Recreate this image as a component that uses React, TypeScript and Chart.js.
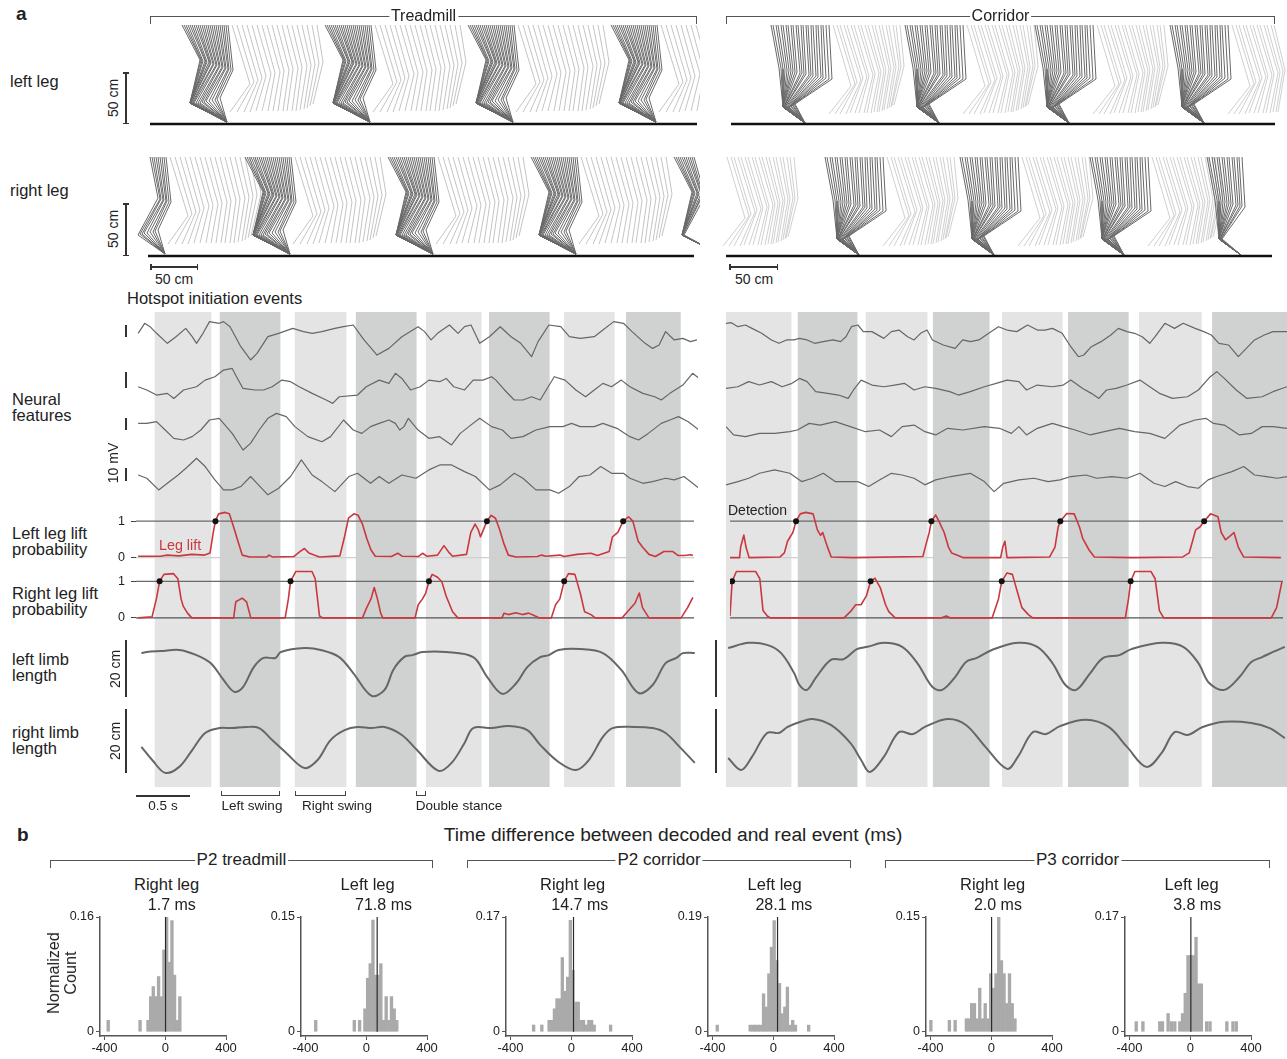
import React, { useEffect, useRef } from "react";
import { Chart, registerables } from "chart.js";

Chart.register(...registerables);

const FONT = "'Liberation Sans', Arial, Helvetica, sans-serif";
Chart.defaults.font.family = FONT;
Chart.defaults.color = "#222";

type Pt = [number, number];

/* ================= Panel a: stick diagrams (cm) ================= */
const HIP_HEIGHT = 99;
// treadmill stride template (x relative to first stance frame, y = height above ground)
const tmDarkHip = [0, 2, 4, 6, 8, 10, 12, 14, 16, 18, 20, 22, 24, 26, 28, 30, 32, 34, 36, 38, 40, 42, 44, 46];
const tmDarkKneeX = [18, 19, 20, 21, 23, 24, 25, 27, 28, 29, 31, 32, 34, 35, 37, 38, 40, 41, 43, 44, 46, 47, 49, 51];
const tmDarkKneeH = [64, 64, 63, 63, 63, 62, 62, 62, 61, 61, 60, 60, 59, 59, 58, 58, 57, 57, 56, 56, 55, 55, 54, 54];
const tmDarkAnkleX = [8, 8, 8, 8, 8, 8, 8, 8, 9, 9, 10, 11, 12, 14, 16, 18, 20, 22, 24, 27, 30, 33, 35, 38];
const tmDarkAnkleH = [21, 21, 21, 21, 21, 21, 21, 21, 21, 21, 21, 21, 21, 21, 21, 21, 22, 22, 23, 23, 24, 24, 25, 26];
const tmToe: Pt = [45, 2];
const tmLightHip = [50, 55, 60, 65, 70, 75, 80, 85, 90, 95, 100, 105, 110, 115, 120, 125, 130, 135];
const tmLightKneeX = [68, 72, 76, 80, 84, 89, 93, 98, 102, 107, 111, 116, 120, 125, 129, 133, 137, 141];
const tmLightKneeH = [40, 42, 44, 46, 48, 50, 51, 52, 53, 54, 55, 56, 57, 58, 59, 60, 61, 62];
const tmLightAnkleX = [48, 55, 62, 68, 74, 80, 86, 91, 96, 101, 105, 110, 114, 118, 122, 125, 128, 131];
const tmLightAnkleH = [12, 12, 12, 12, 13, 13, 13, 13, 13, 13, 13, 13, 13, 14, 15, 16, 18, 20];
// corridor stride template
const crDarkHip = [0, 2, 5, 7, 10, 12, 15, 17, 20, 22, 25, 27, 30, 32, 35, 37, 40, 42, 45, 47, 50, 52, 55, 58];
const crDarkKneeX = [8, 10, 12, 14, 16, 18, 20, 22, 24, 26, 29, 31, 33, 35, 38, 40, 42, 45, 47, 50, 52, 55, 58, 61];
const crDarkKneeH = [56, 56, 55, 55, 54, 54, 53, 53, 52, 52, 51, 51, 50, 50, 49, 49, 48, 48, 47, 47, 46, 46, 45, 45];
const crDarkAnkleX = [12, 12, 12, 12, 12, 12, 12, 12, 12, 13, 13, 13, 14, 14, 15, 16, 17, 18, 19, 20, 21, 22, 23, 24];
const crDarkAnkleH = [17, 17, 17, 17, 17, 17, 17, 17, 17, 17, 17, 17, 17, 17, 17, 17, 17, 17, 18, 18, 19, 19, 20, 20];
const crToe: Pt = [34, 1];
const crLightHip = [62, 66, 69, 73, 76, 80, 83, 87, 90, 94, 97, 101, 104, 108, 111, 115, 118, 122, 125, 129];
const crLightKneeX = [80, 84, 86, 90, 92, 96, 98, 102, 104, 108, 110, 113, 115, 118, 120, 123, 125, 128, 130, 133];
const crLightKneeH = [38, 40, 42, 44, 46, 47, 48, 49, 50, 51, 52, 53, 54, 55, 56, 57, 57, 58, 58, 58];
const crLightAnkleX = [58, 64, 69, 75, 79, 84, 88, 93, 96, 100, 103, 106, 108, 111, 113, 116, 118, 120, 121, 123];
const crLightAnkleH = [10, 10, 10, 10, 11, 11, 11, 11, 11, 11, 12, 12, 12, 13, 14, 15, 16, 17, 18, 19];
// stride start positions (cm along the panel)
const tmLeftStrides = [52, 195, 338, 481];
const tmRightStrides = [-10, 115, 258, 401, 544];
const crLeftStrides = [51, 185, 315, 450];
const crRightStrides = [-55, 105, 240, 370, 487];

/* ================= Panel a: time series (s) ================= */
const tmDuration = 5.2;
const crDuration = 5.19;
const tmLightBands: Pt[] = [[0.176, 0.694], [1.472, 1.944], [2.685, 3.194], [3.963, 4.426]];
const tmDarkBands: Pt[] = [[0.778, 1.333], [2.037, 2.593], [3.269, 3.824], [4.537, 5.037]];
const crLightBands: Pt[] = [[0, 0.602], [1.296, 1.861], [2.556, 3.111], [3.824, 4.398]];
const crDarkBands: Pt[] = [[0.667, 1.213], [1.917, 2.435], [3.167, 3.722], [4.5, 5.194]];

// neural features (mV)
const neuralOffsets = [0, -38.5, -73.1, -111.5];
const tmNeural1: Pt[] = [[.02, 1.3], [.08, 9], [.13, 6.4], [.19, 1.3], [.29, -6.4], [.37, -1.3], [.46, 5.1], [.52, -1.3], [.56, -6.4], [.62, 1.3], [.68, 10.3], [.77, 9], [.81, 10.3], [.87, 6.4], [.97, -9], [1.06, -19.2], [1.12, -14.1], [1.22, -1.3], [1.32, 1.3], [1.45, 5.1], [1.55, 2.6], [1.63, 1.3], [1.72, 2.6], [1.84, 5.1], [1.92, 6.4], [2.01, 7.7], [2.11, -3.8], [2.23, -15.4], [2.34, -10.3], [2.46, -1.3], [2.61, 6.4], [2.67, 2.6], [2.73, -3.8], [2.79, 1.3], [2.90, 7.7], [2.98, 1.3], [3.04, 6.4], [3.10, 7.7], [3.18, -6.4], [3.27, -1.3], [3.37, 6.4], [3.47, -1.3], [3.56, -6.4], [3.66, -16.7], [3.72, -5.1], [3.82, 7.7], [3.93, 6.4], [4.01, -1.3], [4.11, -2.6], [4.24, -1.3], [4.32, 3.8], [4.42, 10.3], [4.51, 9], [4.59, 2.6], [4.71, -6.4], [4.78, -10.3], [4.84, -7.7], [4.90, 2.6], [4.98, -3.8], [5.06, -2.6], [5.13, -5.1], [5.19, -3.8]];
const tmNeural2: Pt[] = [[.02, -1.3], [.10, -3.8], [.19, -7.7], [.29, -6.4], [.35, -10.3], [.44, -3.8], [.56, -1.3], [.64, 3.8], [.73, 6.4], [.81, 11.5], [.89, 12.8], [.93, 6.4], [.99, -2.6], [1.10, -3.8], [1.18, -3.8], [1.26, -1.3], [1.35, 3.8], [1.43, 2.6], [1.51, -1.3], [1.63, -6.4], [1.76, -11.5], [1.82, -14.1], [1.88, -9], [2.05, -7.7], [2.13, -1.3], [2.25, 3.8], [2.34, 1.3], [2.40, 9], [2.46, 5.1], [2.54, -3.8], [2.63, -1.3], [2.71, 3.8], [2.81, 2.6], [2.87, 5.1], [2.94, -1.3], [3.04, -3.8], [3.12, 3.8], [3.21, 3.8], [3.29, 6.4], [3.33, 3.8], [3.41, -3.8], [3.50, -11.5], [3.58, -11.5], [3.66, -9], [3.74, -11.5], [3.87, 6.4], [3.97, 3.8], [4.07, -3.8], [4.16, -9], [4.24, -3.8], [4.32, 1.3], [4.40, -1.3], [4.49, 3.8], [4.57, -1.3], [4.69, -6.4], [4.80, -9], [4.86, -11.5], [4.94, -6.4], [5.06, 0], [5.15, 9], [5.21, 5.1]];
const tmNeural3: Pt[] = [[.02, 5.1], [.10, 5.1], [.19, 6.4], [.27, 0], [.35, -6.4], [.44, -7.7], [.52, -5.1], [.60, 0], [.68, 7.7], [.77, 9], [.81, 5.1], [.89, -2.6], [.99, -15.4], [1.06, -10.3], [1.14, 0], [1.22, 9], [1.30, 12.8], [1.39, 10.3], [1.47, 2.6], [1.59, -5.1], [1.72, -9], [1.80, -5.1], [1.92, 7.7], [2.01, 0], [2.09, -2.6], [2.17, 2.6], [2.25, 5.1], [2.34, 7.7], [2.40, 5.1], [2.44, 0], [2.48, 2.6], [2.52, 9], [2.61, 0], [2.71, -6.4], [2.81, -5.1], [2.92, -11.5], [3.00, -2.6], [3.08, 2.6], [3.18, 9], [3.29, 2.6], [3.39, 0], [3.47, -6.4], [3.58, -5.1], [3.70, 0], [3.83, 2.6], [3.95, 2.6], [4.03, 5.1], [4.11, 2.6], [4.24, 2.6], [4.32, 5.1], [4.45, 1.3], [4.57, -5.1], [4.65, -7.7], [4.74, -2.6], [4.86, 5.1], [4.94, 7.7], [5.02, 10.3], [5.11, 6.4], [5.21, 0]];
const tmNeural4: Pt[] = [[.02, 3.8], [.10, 1.3], [.21, -7.7], [.29, -2.6], [.39, 3.8], [.48, 10.3], [.56, 16.7], [.64, 10.3], [.73, 0], [.81, -7.7], [.89, -7.7], [.97, -5.1], [1.06, 2.6], [1.12, -2.6], [1.22, -11.5], [1.32, -6.4], [1.43, 2.6], [1.53, 15.4], [1.63, 3.8], [1.72, -1.3], [1.84, -9], [1.97, 2.6], [2.05, 5.1], [2.17, -2.6], [2.25, 2.6], [2.34, -2.6], [2.46, 3.8], [2.59, 1.3], [2.71, 7.7], [2.81, 11.5], [2.92, 11.5], [3.04, 6.4], [3.14, 2.6], [3.27, -7.7], [3.37, -3.8], [3.50, 5.1], [3.58, 1.3], [3.70, -7.7], [3.83, -7.7], [3.91, -10.3], [4.01, -5.1], [4.10, 2.6], [4.20, 3.8], [4.30, 10.3], [4.40, 5.1], [4.51, 5.1], [4.57, 1.3], [4.69, -2.6], [4.78, -1.3], [4.90, 1.3], [4.98, 0], [5.07, 2.6], [5.21, -6.4]];
const crNeural1: Pt[] = [[0, 9], [.05, 9.5], [.11, 6.4], [.18, 7.7], [.24, 5.1], [.33, 1.3], [.42, -3.8], [.49, -6.4], [.56, -3.8], [.63, -3.8], [.68, -2.6], [.75, -3.8], [.82, -6.4], [.90, -5.1], [.99, -3.8], [1.06, -5.1], [1.11, -1.3], [1.16, 6.4], [1.22, 7.7], [1.27, 2.6], [1.35, 2.6], [1.46, -2.6], [1.53, 2.6], [1.60, 3.8], [1.68, -1.3], [1.74, -3.8], [1.80, 1.3], [1.86, 3.8], [1.91, -3.8], [2.01, -7.7], [2.12, -10.3], [2.19, -3.8], [2.26, -5.1], [2.34, -3.8], [2.43, 1.3], [2.52, 6.4], [2.60, 3.8], [2.69, 2.6], [2.79, 7.7], [2.88, 3.8], [2.95, 3.8], [3.02, 5.1], [3.11, 1.3], [3.19, -9], [3.26, -16.7], [3.31, -15.4], [3.38, -9], [3.47, -5.1], [3.56, 0], [3.63, 5.1], [3.71, 2.6], [3.78, 1.3], [3.85, -1.3], [3.92, -6.4], [3.97, -1.3], [4.06, 9], [4.15, 5.1], [4.23, 9], [4.34, 5.1], [4.42, 2.6], [4.49, 0], [4.56, -6.4], [4.65, -7.7], [4.74, -16.7], [4.80, -11.5], [4.89, -3.8], [4.98, 0], [5.06, 2.6], [5.19, 2.6]];
const crNeural2: Pt[] = [[0, -2.6], [.11, -1.3], [.21, 2.6], [.31, 0], [.42, 2.6], [.52, -1.3], [.61, 1.3], [.68, 5.1], [.75, 2.6], [.83, -5.1], [.94, -6.4], [1.04, -7.7], [1.13, -10.3], [1.18, -3.8], [1.25, 3.8], [1.35, 0], [1.46, -1.3], [1.56, 0], [1.65, 1.3], [1.74, -3.8], [1.84, -1.3], [1.94, -2.6], [2.07, -5.1], [2.15, -7.7], [2.26, -5.1], [2.39, -1.3], [2.50, 1.3], [2.60, 3.8], [2.71, 2.6], [2.78, -3.8], [2.88, 0], [3.02, -1.3], [3.12, 0], [3.19, 3.8], [3.30, -2.6], [3.38, -6.4], [3.45, -10.3], [3.52, -3.8], [3.61, -2.6], [3.71, 0], [3.83, 3.8], [3.92, -1.3], [4.01, -6.4], [4.13, -10.3], [4.27, -9], [4.37, -3.8], [4.48, 6.4], [4.54, 10.3], [4.61, 5.1], [4.72, -3.8], [4.82, -10.3], [4.96, -9], [5.06, -5.1], [5.19, -1.3]];
const crNeural3: Pt[] = [[0, 2.6], [.07, -3.8], [.18, -5.1], [.31, -2.6], [.45, -2.6], [.59, -1.3], [.66, 0], [.77, 5.1], [.87, 3.8], [1.01, 6.4], [1.15, 2.6], [1.29, -1.3], [1.42, 0], [1.53, -5.1], [1.63, 2.6], [1.74, 3.8], [1.84, -1.3], [1.94, -3.8], [2.05, 1.3], [2.19, 0], [2.39, 2.6], [2.53, 1.3], [2.64, -2.6], [2.71, 2.6], [2.78, -3.8], [2.88, 1.3], [3.02, 5.1], [3.12, 2.6], [3.23, 0], [3.37, -3.8], [3.50, -1.3], [3.64, 1.3], [3.78, -1.3], [3.92, -2.6], [4.06, -6.4], [4.20, 3.8], [4.34, 7.7], [4.44, 9], [4.51, 5.1], [4.61, 3.8], [4.75, -3.8], [4.86, -2.6], [4.96, 2.6], [5.06, 2.6], [5.19, 1.3]];
const crNeural4: Pt[] = [[0, -3.8], [.11, -1.3], [.21, 1.3], [.31, 5.1], [.45, 7.7], [.59, 5.1], [.70, -1.3], [.80, 1.3], [.90, 5.1], [1.01, -1.3], [1.11, -1.3], [1.22, -1.3], [1.32, -5.1], [1.42, 0], [1.53, 5.1], [1.63, 3.8], [1.74, 1.3], [1.84, -3.8], [1.94, 0], [2.08, 2.6], [2.26, 5.1], [2.39, -1.3], [2.48, -9], [2.57, -2.6], [2.71, 0], [2.85, 1.3], [2.98, -1.3], [3.09, 0], [3.19, 2.6], [3.33, 3.8], [3.43, 1.3], [3.57, 2.6], [3.71, 1.3], [3.83, 5.1], [3.96, -2.6], [4.06, -5.1], [4.16, -1.3], [4.27, -5.1], [4.37, -6.4], [4.46, 0], [4.54, 2.6], [4.68, 6.4], [4.79, 10.3], [4.89, 3.8], [5.00, 2.6], [5.10, 1.3], [5.19, 2.6]];

// leg-lift probabilities
const tmLeftLift: Pt[] = [[0.02, 0.04], [0.23, 0.04], [0.29, 0.07], [0.40, 0.05], [0.52, 0.09], [0.64, 0.07], [0.69, 0.13], [0.72, 0.69], [0.74, 1.0], [0.77, 1.2], [0.83, 1.24], [0.87, 1.2], [0.91, 0.84], [0.95, 0.45], [0.99, 0.07], [1.06, 0.02], [1.22, 0.02], [1.24, 0.07], [1.27, 0.02], [1.47, 0.03], [1.53, 0.17], [1.57, 0.25], [1.61, 0.13], [1.66, 0.07], [1.71, 0.02], [1.90, 0.05], [1.94, 0.53], [1.98, 1.08], [2.03, 1.2], [2.07, 1.16], [2.11, 0.92], [2.15, 0.53], [2.19, 0.21], [2.23, 0.04], [2.38, 0.03], [2.44, 0.12], [2.48, 0.04], [2.63, 0.03], [2.67, 0.12], [2.71, 0.04], [2.81, 0.07], [2.87, 0.33], [2.92, 0.13], [2.95, 0.04], [3.08, 0.09], [3.12, 0.69], [3.16, 0.92], [3.19, 0.76], [3.21, 0.57], [3.27, 1.0], [3.31, 1.16], [3.35, 1.08], [3.39, 0.76], [3.43, 0.37], [3.47, 0.07], [3.54, 0.02], [3.74, 0.03], [3.78, 0.07], [3.82, 0.04], [3.95, 0.07], [3.99, 0.03], [4.11, 0.09], [4.24, 0.12], [4.30, 0.06], [4.41, 0.17], [4.44, 0.57], [4.49, 0.69], [4.54, 1.0], [4.59, 1.12], [4.63, 1.0], [4.68, 0.45], [4.72, 0.29], [4.78, 0.09], [4.84, 0.03], [4.92, 0.17], [5.00, 0.17], [5.05, 0.06], [5.11, 0.06], [5.17, 0.08], [5.19, 0.06]];
const tmRightLift: Pt[] = [[0.02, 0], [0.15, 0.03], [0.19, 0.52], [0.22, 1.0], [0.26, 1.19], [0.35, 1.21], [0.39, 1.07], [0.42, 0.52], [0.44, 0.32], [0.48, 0.13], [0.52, 0], [0.91, 0], [0.93, 0.44], [0.99, 0.54], [1.03, 0.44], [1.07, 0], [1.39, 0], [1.42, 0.52], [1.44, 1.0], [1.49, 1.27], [1.64, 1.27], [1.67, 1.07], [1.71, 0.05], [1.74, 0], [2.11, 0], [2.15, 0.28], [2.19, 0.52], [2.22, 0.83], [2.25, 0.52], [2.28, 0.13], [2.30, 0], [2.60, 0], [2.63, 0.36], [2.67, 0.52], [2.70, 0.68], [2.73, 1.0], [2.76, 1.19], [2.81, 1.11], [2.85, 0.99], [2.89, 0.6], [2.95, 0.17], [3.0, 0], [3.41, 0], [3.43, 0.13], [3.47, 0.09], [3.54, 0.14], [3.60, 0.09], [3.66, 0.13], [3.72, 0.05], [3.76, 0], [3.87, 0], [3.91, 0.36], [3.95, 0.52], [3.99, 1.0], [4.03, 1.21], [4.09, 1.19], [4.14, 0.68], [4.18, 0.17], [4.24, 0.09], [4.28, 0], [4.53, 0], [4.59, 0.2], [4.65, 0.4], [4.69, 0.68], [4.72, 0.28], [4.78, 0], [5.08, 0], [5.14, 0.28], [5.19, 0.56]];
const crLeftLift: Pt[] = [[0, 0], [0.09, 0], [0.10, 0.29], [0.13, 0.62], [0.15, 0.29], [0.18, 0], [0.47, 0.02], [0.51, 0.13], [0.54, 0.45], [0.59, 0.69], [0.62, 1.0], [0.66, 1.2], [0.71, 1.24], [0.78, 1.2], [0.82, 0.76], [0.85, 0.61], [0.87, 0.69], [0.91, 0.33], [0.95, 0.02], [1.15, 0], [1.81, 0.03], [1.84, 0.37], [1.87, 0.69], [1.89, 1.0], [1.93, 1.17], [1.96, 1.0], [2.01, 0.69], [2.05, 0.29], [2.08, 0.13], [2.14, 0.06], [2.19, 0], [2.54, 0], [2.56, 0.29], [2.58, 0.45], [2.60, 0], [3.0, 0.02], [3.05, 0.29], [3.08, 0.84], [3.10, 1.0], [3.16, 1.21], [3.23, 1.2], [3.28, 0.84], [3.31, 0.53], [3.37, 0.21], [3.42, 0.02], [3.78, 0], [4.25, 0.02], [4.31, 0.13], [4.37, 0.76], [4.41, 0.84], [4.45, 1.0], [4.51, 1.2], [4.58, 1.12], [4.61, 0.69], [4.65, 0.49], [4.70, 0.61], [4.73, 0.69], [4.77, 0.29], [4.82, 0.02], [5.17, 0]];
const crRightLift: Pt[] = [[0, 0.05], [0.02, 1.0], [0.06, 1.27], [0.24, 1.27], [0.28, 1.07], [0.31, 0.2], [0.35, 0.05], [0.38, 0], [1.07, 0], [1.13, 0.17], [1.18, 0.36], [1.23, 0.36], [1.28, 0.6], [1.32, 1.0], [1.36, 1.09], [1.41, 0.83], [1.46, 0.36], [1.49, 0.17], [1.55, 0], [1.98, 0], [2.03, 0.05], [2.07, 0], [2.46, 0], [2.52, 0.52], [2.55, 1.0], [2.60, 1.23], [2.65, 1.19], [2.70, 0.68], [2.74, 0.28], [2.80, 0.09], [2.84, 0], [3.71, 0], [3.74, 0.52], [3.76, 1.0], [3.80, 1.27], [3.95, 1.27], [3.99, 1.07], [4.03, 0.2], [4.07, 0], [5.08, 0], [5.13, 0.28], [5.18, 0.99]];
const liftThreshold = 1;
const tmLeftDetections = [0.74, 3.27, 4.54];
const tmRightDetections = [0.22, 1.44, 2.73, 3.99];
const crLeftDetections = [0.62, 1.89, 3.10, 4.45];
const crRightDetections = [0.02, 1.32, 2.55, 3.76];

// limb lengths (cm)
const tmLeftLimb: Pt[] = [[.05, 18.2], [.10, 18.6], [.23, 18.9], [.40, 19.3], [.56, 17.5], [.69, 14.7], [.81, 8.8], [.91, 4.6], [.99, 6.3], [1.09, 13.3], [1.18, 16.5], [1.29, 16.5], [1.34, 18.6], [1.56, 20.0], [1.71, 19.3], [1.88, 16.8], [2.01, 11.2], [2.18, 3.2], [2.30, 5.3], [2.38, 12.3], [2.48, 16.8], [2.56, 17.5], [2.65, 18.6], [2.87, 18.6], [3.12, 16.8], [3.25, 9.8], [3.39, 3.9], [3.52, 7.7], [3.62, 13.3], [3.74, 16.8], [3.82, 17.5], [3.91, 19.3], [4.11, 19.6], [4.32, 18.2], [4.49, 12.3], [4.65, 4.2], [4.78, 7.0], [4.90, 14.7], [5.00, 16.5], [5.06, 18.2], [5.17, 18.2]];
const tmRightLimb: Pt[] = [[.05, 11.6], [.15, 7.0], [.27, 2.5], [.40, 4.6], [.52, 10.5], [.64, 16.5], [.77, 18.2], [.89, 18.2], [1.02, 18.6], [1.14, 18.2], [1.26, 14.0], [1.39, 9.5], [1.56, 4.2], [1.68, 7.0], [1.80, 14.0], [1.93, 17.5], [2.05, 18.6], [2.18, 18.2], [2.30, 18.6], [2.46, 15.8], [2.60, 10.5], [2.80, 3.2], [2.92, 6.0], [3.04, 13.0], [3.12, 18.2], [3.29, 18.2], [3.45, 18.9], [3.62, 17.5], [3.74, 12.3], [3.91, 6.3], [4.07, 3.5], [4.19, 7.0], [4.32, 15.1], [4.41, 18.2], [4.61, 18.6], [4.78, 18.2], [4.90, 16.5], [5.03, 11.6], [5.17, 6.0]];
const crLeftLimb: Pt[] = [[.02, 20.0], [.21, 21.8], [.38, 21.1], [.51, 18.2], [.63, 11.2], [.68, 7.0], [.75, 5.3], [.83, 9.5], [.97, 15.8], [1.09, 16.1], [1.21, 19.6], [1.31, 20.4], [1.46, 21.8], [1.63, 20.4], [1.77, 14.7], [1.91, 6.3], [2.00, 5.3], [2.12, 9.8], [2.22, 15.1], [2.32, 16.5], [2.46, 19.3], [2.70, 21.8], [2.88, 20.4], [3.02, 14.7], [3.14, 7.0], [3.24, 5.3], [3.37, 11.2], [3.49, 16.5], [3.64, 17.5], [3.75, 19.6], [4.03, 21.8], [4.23, 20.4], [4.37, 14.7], [4.47, 7.7], [4.61, 5.3], [4.75, 9.8], [4.86, 15.1], [4.96, 16.8], [5.06, 18.6], [5.17, 20.4]];
const crRightLimb: Pt[] = [[.02, 7.7], [.14, 3.5], [.24, 8.1], [.38, 16.5], [.49, 16.5], [.57, 18.6], [.69, 20.4], [.80, 21.4], [.97, 19.3], [1.15, 13.0], [1.25, 7.0], [1.33, 2.8], [1.46, 8.1], [1.60, 16.8], [1.73, 16.1], [1.84, 18.6], [2.05, 21.4], [2.22, 19.3], [2.40, 11.6], [2.60, 3.9], [2.70, 8.1], [2.84, 16.8], [2.96, 16.1], [3.09, 18.9], [3.33, 21.1], [3.54, 18.6], [3.71, 11.6], [3.89, 4.6], [4.03, 9.5], [4.15, 16.8], [4.27, 15.8], [4.41, 18.6], [4.61, 20.4], [4.86, 20.0], [5.03, 18.2], [5.17, 14.7]];

/* ================= Panel b: histograms (ms, normalized count) ================= */
const histBins1 = [-376, -166, -114, -96, -79, -61, -44, -26, -9, 9, 26, 44, 61, 79, 96];
const histFreq1 = [0.016, 0.016, 0.016, 0.049, 0.063, 0.049, 0.077, 0.049, 0.114, 0.16, 0.097, 0.155, 0.079, 0.016, 0.049];
const histBins2 = [-333, -79, -44, -9, 9, 26, 44, 61, 79, 96, 114, 131, 149, 166, 184, 201];
const histFreq2 = [0.015, 0.015, 0.015, 0.03, 0.07, 0.089, 0.146, 0.074, 0.074, 0.089, 0.015, 0.046, 0.015, 0.046, 0.03, 0.015];
const histBins3 = [-248, -194, -146, -129, -111, -94, -76, -59, -41, -24, -6, 11, 29, 46, 64, 81, 99, 116, 134, 151, 259];
const histFreq3 = [0.01, 0.01, 0.017, 0.017, 0.034, 0.049, 0.049, 0.11, 0.06, 0.081, 0.165, 0.091, 0.044, 0.044, 0.017, 0.017, 0.01, 0.017, 0.017, 0.01, 0.01];
const histBins4 = [-369, -152, -134, -117, -99, -82, -64, -47, -29, -12, 6, 23, 41, 58, 76, 93, 111, 128, 146, 233];
const histFreq4 = [0.011, 0.011, 0.011, 0.011, 0.011, 0.011, 0.063, 0.041, 0.096, 0.14, 0.184, 0.118, 0.08, 0.03, 0.041, 0.074, 0.011, 0.019, 0.011, 0.011];
const histBins5 = [-398, -276, -238, -164, -147, -129, -111, -93, -76, -58, -40, -22, -4, 13, 31, 49, 67, 84, 102, 120, 138, 156];
const histFreq5 = [0.015, 0.015, 0.015, 0.017, 0.017, 0.037, 0.037, 0.017, 0.057, 0.017, 0.037, 0.017, 0.076, 0.057, 0.076, 0.15, 0.093, 0.076, 0.037, 0.076, 0.037, 0.017];
const histBins6 = [-356, -312, -201, -183, -146, -124, -102, -69, -51, -33, -15, 2, 20, 38, 55, 73, 108, 130, 241, 281, 303];
const histFreq6 = [0.015, 0.015, 0.015, 0.015, 0.027, 0.015, 0.015, 0.015, 0.027, 0.057, 0.113, 0.113, 0.113, 0.14, 0.071, 0.071, 0.015, 0.015, 0.015, 0.015, 0.015];
const histTopTick = [0.16, 0.15, 0.17, 0.19, 0.15, 0.17];
const histMeanMs = [1.7, 71.8, 14.7, 28.1, 2.0, 3.8];
const histTitles = ["Right leg", "Left leg", "Right leg", "Left leg", "Right leg", "Left leg"];
const histTicks = [-400, 0, 400];

/* ================= helpers ================= */
const GREY = "#666";
const RED = "#c9383f";

const baseOptions = (extra: any = {}) => ({
  responsive: false,
  animation: false,
  events: [],
  plugins: { legend: { display: false }, tooltip: { enabled: false } },
  layout: { padding: 0 },
  ...extra,
});
const hidden = (min: number, max: number) => ({ type: "linear", display: false, min, max, offset: false });

function lineSet(pts: Pt[], color: string, width: number, tension = 0, yOffset = 0) {
  return {
    type: "scatter",
    data: pts.map(([x, y]) => ({ x, y: y + yOffset })),
    showLine: true,
    borderColor: color,
    borderWidth: width,
    pointRadius: 0,
    tension,
    fill: false,
    borderJoinStyle: "round",
  };
}

function strideFrames(o: number, hip: number[], kx: number[], kh: number[], ax: number[], ah: number[], toe: Pt | null, hipMin: number, hipMax: number) {
  const pts: any[] = [];
  hip.forEach((h, i) => {
    const hx = o + h;
    if (hx < hipMin || hx > hipMax) return;
    pts.push({ x: hx, y: HIP_HEIGHT }, { x: o + kx[i], y: kh[i] }, { x: o + ax[i], y: ah[i] });
    if (toe) pts.push({ x: o + toe[0], y: toe[1] });
    pts.push({ x: null, y: null });
  });
  return pts;
}

function stickConfig(env: "tm" | "cr", strides: number[], hipMin: number, hipMax: number, ground: Pt, xmax: number, ymax: number) {
  const dark: any[] = [];
  const light: any[] = [];
  strides.forEach((o) => {
    if (env === "tm") {
      dark.push(...strideFrames(o, tmDarkHip, tmDarkKneeX, tmDarkKneeH, tmDarkAnkleX, tmDarkAnkleH, tmToe, hipMin, hipMax));
      light.push(...strideFrames(o, tmLightHip, tmLightKneeX, tmLightKneeH, tmLightAnkleX, tmLightAnkleH, null, hipMin, hipMax));
    } else {
      dark.push(...strideFrames(o, crDarkHip, crDarkKneeX, crDarkKneeH, crDarkAnkleX, crDarkAnkleH, crToe, hipMin, hipMax));
      light.push(...strideFrames(o, crLightHip, crLightKneeX, crLightKneeH, crLightAnkleX, crLightAnkleH, null, hipMin, hipMax));
    }
  });
  const stickSet = (data: any[], color: string) => ({ type: "scatter", data, showLine: true, spanGaps: false, borderColor: color, borderWidth: 1, pointRadius: 0 });
  return {
    type: "scatter",
    data: {
      datasets: [
        lineSet([[ground[0], 0], [ground[1], 0]], "#111", 2.5),
        stickSet(dark, "#686868"),
        stickSet(light, env === "tm" ? "#c4c4c4" : "#cfcfcf"),
      ],
    },
    options: baseOptions({ scales: { x: hidden(0, xmax), y: hidden(-4, ymax) } }),
  };
}

function bandConfig(light: Pt[], dark: Pt[], dur: number) {
  const mk = (b: Pt, c: string) => ({ data: [b], backgroundColor: c, grouped: false, barPercentage: 1, categoryPercentage: 1, borderWidth: 0 });
  return {
    type: "bar",
    data: { labels: ["phase"], datasets: [...light.map((b) => mk(b, "#e4e4e4")), ...dark.map((b) => mk(b, "#d0d1d1"))] },
    options: baseOptions({ indexAxis: "y", scales: { x: hidden(0, dur), y: { display: false } } }),
  };
}

function neuralConfig(traces: Pt[][], dur: number) {
  return {
    type: "scatter",
    data: { datasets: traces.map((t, i) => lineSet(t, GREY, 1.2, 0, neuralOffsets[i])) },
    options: baseOptions({ scales: { x: hidden(0, dur), y: hidden(-130.8, 17.7) } }),
  };
}

function liftConfig(trace: Pt[], det: number[], dur: number, ymin: number, ymax: number, zeroColor: string, withAxis: boolean) {
  const yScale: any = withAxis
    ? {
        type: "linear",
        min: ymin,
        max: ymax,
        position: "left",
        afterBuildTicks: (s: any) => { s.ticks = [{ value: 0 }, { value: 1 }]; },
        afterFit: (s: any) => { s.width = 26; s.paddingTop = 0; s.paddingBottom = 0; },
        ticks: { font: { size: 12.5 }, color: "#222", padding: 6 },
        grid: { drawOnChartArea: false, drawTicks: true, tickLength: 5, color: "#444", lineWidth: 1 },
        border: { display: false },
      }
    : hidden(ymin, ymax);
  return {
    type: "scatter",
    data: {
      datasets: [
        { type: "scatter", data: det.map((t) => ({ x: t, y: liftThreshold })), pointRadius: 3, pointBackgroundColor: "#111", pointBorderWidth: 0, showLine: false },
        lineSet(trace, RED, 1.6, 0),
        lineSet([[0, liftThreshold], [dur, liftThreshold]], "#6a6a6a", 1.2),
        lineSet([[0, 0], [dur, 0]], zeroColor, 1.4),
      ],
    },
    options: baseOptions({ scales: { x: hidden(0, dur), y: yScale } }),
  };
}

function limbConfig(trace: Pt[], dur: number) {
  return {
    type: "scatter",
    data: { datasets: [lineSet(trace, GREY, 2, 0.35)] },
    options: baseOptions({ scales: { x: hidden(0, dur), y: hidden(0, 26.3) } }),
  };
}

function histConfig(bins: number[], freq: number[], top: number, mean: number) {
  return {
    type: "bar",
    data: {
      datasets: [
        { type: "line", data: [{ x: mean, y: 0 }, { x: mean, y: top }], borderColor: "#2a2a2a", borderWidth: 1.2, pointRadius: 0 },
        { type: "bar", data: bins.map((b, i) => ({ x: b, y: freq[i] })), backgroundColor: "#aaaaaa", barThickness: 2.7, borderWidth: 0 },
      ],
    },
    options: baseOptions({
      layout: { padding: { left: 8, top: 10, right: 14, bottom: 2 } },
      scales: {
        x: {
          type: "linear",
          min: -430,
          max: 400,
          offset: false,
          afterBuildTicks: (s: any) => { s.ticks = histTicks.map((v) => ({ value: v })); },
          afterFit: (s: any) => { s.height = 20; s.paddingLeft = 0; s.paddingRight = 0; },
          ticks: { font: { size: 13 }, color: "#222", padding: 1, maxRotation: 0, autoSkip: false },
          grid: { drawOnChartArea: false, drawTicks: true, tickLength: 4, color: "#555", offset: false },
          border: { display: true, color: "#555", width: 1.5 },
        },
        y: {
          type: "linear",
          min: -top * 0.037,
          max: top,
          afterBuildTicks: (s: any) => { s.ticks = [{ value: 0 }, { value: top }]; },
          afterFit: (s: any) => { s.width = 32; s.paddingTop = 0; s.paddingBottom = 0; },
          ticks: { font: { size: 12.5 }, color: "#222", padding: 2, callback: (v: any) => (v === 0 ? "0" : Number(v).toFixed(2)) },
          grid: { drawOnChartArea: false, drawTicks: true, tickLength: 4, color: "#555" },
          border: { display: true, color: "#555", width: 1.5 },
        },
      },
    }),
  };
}

/* ================= components ================= */
function ChartCanvas({ x, y, w, h, z = 1, make }: any) {
  const ref = useRef<HTMLCanvasElement | null>(null);
  useEffect(() => {
    if (!ref.current) return;
    const chart = new Chart(ref.current, make() as any);
    return () => chart.destroy();
  }, []);
  return <canvas ref={ref} width={w} height={h} style={{ position: "absolute", left: x, top: y, width: w, height: h, zIndex: z }} />;
}

function Txt({ x, y, children, size = 16.5, align = "left", color = "#222", bold = false, rotate = false, lh = 16, bg = false }: any) {
  const tx = align === "center" ? "-50%" : align === "right" ? "-100%" : "0";
  return (
    <div
      style={{
        position: "absolute",
        left: x,
        top: y,
        transform: rotate ? "translate(-50%,-50%) rotate(-90deg)" : `translate(${tx},-50%)`,
        fontSize: size,
        color,
        fontWeight: bold ? 700 : 400,
        whiteSpace: "pre",
        lineHeight: `${lh}px`,
        zIndex: 4,
        textAlign: rotate ? "center" : align,
        background: bg ? "#fff" : "transparent",
        padding: bg ? "0 2px" : 0,
      }}
    >
      {children}
    </div>
  );
}

const Box = ({ x, y, w, h, c = "#333" }: any) => <div style={{ position: "absolute", left: x, top: y, width: w, height: h, background: c, zIndex: 3 }} />;

function Bracket({ x1, x2, y, label, size = 16 }: any) {
  return (
    <>
      <div style={{ position: "absolute", left: x1, top: y, width: x2 - x1, height: 8, borderTop: "1.5px solid #555", borderLeft: "1.5px solid #555", borderRight: "1.5px solid #555", boxSizing: "border-box", zIndex: 3 }} />
      <Txt x={(x1 + x2) / 2} y={y} align="center" size={size} bg>{label}</Txt>
    </>
  );
}

function UpBracket({ x1, x2, y }: any) {
  return <div style={{ position: "absolute", left: x1, top: y - 5, width: x2 - x1, height: 5, borderBottom: "1.5px solid #444", borderLeft: "1.5px solid #444", borderRight: "1.5px solid #444", boxSizing: "border-box", zIndex: 3 }} />;
}

function VScale({ x, y1, y2, caps = true }: any) {
  return (
    <>
      <Box x={x - 0.75} y={y1} w={1.5} h={y2 - y1} />
      {caps ? <Box x={x - 3} y={y1} w={6} h={1.5} /> : null}
      {caps ? <Box x={x - 3} y={y2 - 1.5} w={6} h={1.5} /> : null}
    </>
  );
}

function HScale({ x1, x2, y }: any) {
  return (
    <>
      <Box x={x1} y={y - 0.75} w={x2 - x1} h={1.5} />
      <Box x={x1} y={y - 3} w={1.5} h={6} />
      <Box x={x2 - 1.5} y={y - 3} w={1.5} h={6} />
    </>
  );
}

const histLefts = [100, 301, 506, 708, 926, 1125];
const histBins = [histBins1, histBins2, histBins3, histBins4, histBins5, histBins6];
const histFreqs = [histFreq1, histFreq2, histFreq3, histFreq4, histFreq5, histFreq6];

export default function App() {
  const TM_X = 136, TM_W = 562, CR_X = 726, CR_W = 561;
  return (
    <div style={{ position: "absolute", left: 0, top: 0, width: 1287, height: 1059, background: "#fff", fontFamily: FONT, color: "#222", overflow: "hidden" }}>
      {/* ---------- top: stick diagrams ---------- */}
      <Txt x={16} y={14} size={19} bold>a</Txt>
      <Bracket x1={150} x2={697} y={16} label="Treadmill" />
      <Bracket x1={726} x2={1275} y={16} label="Corridor" />
      <Txt x={10} y={81}>left leg</Txt>
      <Txt x={10} y={190}>right leg</Txt>
      <VScale x={126} y1={72} y2={124} />
      <VScale x={126} y1={203} y2={256} />
      <Txt x={113} y={98} size={14} rotate>50 cm</Txt>
      <Txt x={113} y={229} size={14} rotate>50 cm</Txt>
      <HScale x1={150} x2={198} y={267} />
      <HScale x1={729} x2={778} y={267} />
      <Txt x={174} y={279} size={14} align="center">50 cm</Txt>
      <Txt x={754} y={279} size={14} align="center">50 cm</Txt>

      <ChartCanvas x={130} y={20} w={570} h={108} make={() => stickConfig("tm", tmLeftStrides, 0, 567, [20, 567], 570, 104)} />
      <ChartCanvas x={130} y={150} w={570} h={110} make={() => stickConfig("tm", tmRightStrides, 20, 565, [18, 564], 570, 106)} />
      <ChartCanvas x={720} y={20} w={567} h={108} make={() => stickConfig("cr", crLeftStrides, 0, 555, [11, 555], 567, 104)} />
      <ChartCanvas x={720} y={150} w={567} h={110} make={() => stickConfig("cr", crRightStrides, 5, 523, [6, 552], 567, 106)} />

      {/* ---------- phase bands ---------- */}
      <ChartCanvas x={TM_X} y={312} w={TM_W} h={475} z={0} make={() => bandConfig(tmLightBands, tmDarkBands, tmDuration)} />
      <ChartCanvas x={CR_X} y={312} w={CR_W} h={475} z={0} make={() => bandConfig(crLightBands, crDarkBands, crDuration)} />

      {/* ---------- neural features ---------- */}
      <Txt x={127} y={298}>Hotspot initiation events</Txt>
      <Txt x={12} y={407}>{"Neural\nfeatures"}</Txt>
      <VScale x={126} y1={325} y2={337} caps={false} />
      <VScale x={126} y1={372} y2={388} caps={false} />
      <VScale x={126} y1={418} y2={430} caps={false} />
      <VScale x={126} y1={468} y2={481} caps={false} />
      <Txt x={113} y={463} size={14} rotate>10 mV</Txt>
      <ChartCanvas x={TM_X} y={312} w={TM_W} h={193} make={() => neuralConfig([tmNeural1, tmNeural2, tmNeural3, tmNeural4], tmDuration)} />
      <ChartCanvas x={CR_X} y={312} w={CR_W} h={193} make={() => neuralConfig([crNeural1, crNeural2, crNeural3, crNeural4], crDuration)} />

      {/* ---------- leg lift probabilities ---------- */}
      <Txt x={12} y={541}>{"Left leg lift\nprobability"}</Txt>
      <Txt x={12} y={601}>{"Right leg lift\nprobability"}</Txt>
      <Txt x={159} y={545} size={14.3} color={RED}>Leg lift</Txt>
      <Txt x={728} y={510} size={14}>Detection</Txt>
      <ChartCanvas x={TM_X - 26} y={505} w={TM_W + 26} h={61} make={() => liftConfig(tmLeftLift, tmLeftDetections, tmDuration, -0.119, 1.333, "#cfcfcf", true)} />
      <ChartCanvas x={TM_X - 26} y={566} w={TM_W + 26} h={62} make={() => liftConfig(tmRightLift, tmRightDetections, tmDuration, -0.167, 1.31, "#555", true)} />
      <ChartCanvas x={CR_X} y={505} w={CR_W} h={61} make={() => liftConfig(crLeftLift, crLeftDetections, crDuration, -0.119, 1.333, "#cfcfcf", false)} />
      <ChartCanvas x={CR_X} y={566} w={CR_W} h={62} make={() => liftConfig(crRightLift, crRightDetections, crDuration, -0.167, 1.31, "#555", false)} />

      {/* ---------- limb lengths ---------- */}
      <Txt x={12} y={667}>{"left limb\nlength"}</Txt>
      <Txt x={12} y={740}>{"right limb\nlength"}</Txt>
      <VScale x={126} y1={640} y2={697} caps={false} />
      <VScale x={126} y1={709} y2={773} caps={false} />
      <VScale x={716} y1={640} y2={697} caps={false} />
      <VScale x={716} y1={709} y2={773} caps={false} />
      <Txt x={115} y={669} size={14} rotate>20 cm</Txt>
      <Txt x={115} y={741} size={14} rotate>20 cm</Txt>
      <ChartCanvas x={TM_X} y={630} w={TM_W} h={75} make={() => limbConfig(tmLeftLimb, tmDuration)} />
      <ChartCanvas x={TM_X} y={705} w={TM_W} h={75} make={() => limbConfig(tmRightLimb, tmDuration)} />
      <ChartCanvas x={CR_X} y={630} w={CR_W} h={75} make={() => limbConfig(crLeftLimb, crDuration)} />
      <ChartCanvas x={CR_X} y={705} w={CR_W} h={75} make={() => limbConfig(crRightLimb, crDuration)} />

      {/* ---------- time legend ---------- */}
      <Box x={136} y={795} w={54} h={1.5} />
      <Txt x={163} y={806} size={13.5} align="center">0.5 s</Txt>
      <UpBracket x1={221} x2={280} y={796} />
      <Txt x={252} y={806} size={13.5} align="center">Left swing</Txt>
      <UpBracket x1={295} x2={346} y={796} />
      <Txt x={337} y={806} size={13.5} align="center">Right swing</Txt>
      <UpBracket x1={416} x2={426} y={796} />
      <Txt x={459} y={806} size={13.5} align="center">Double stance</Txt>

      {/* ---------- panel b ---------- */}
      <Txt x={17} y={835} size={19} bold>b</Txt>
      <Txt x={673} y={835} size={19.2} align="center">Time difference between decoded and real event (ms)</Txt>
      <Bracket x1={50} x2={433} y={860} label="P2 treadmill" size={17} />
      <Bracket x1={467} x2={851} y={860} label="P2 corridor" size={17} />
      <Bracket x1={885} x2={1270} y={860} label="P3 corridor" size={17} />
      <Txt x={62} y={973} rotate lh={17} size={16.2}>{"Normalized\nCount"}</Txt>
      {histLefts.map((left, i) => {
        const center = left + 4.5 + 400 * 0.152 + 0.3;
        return (
          <React.Fragment key={i}>
            <Txt x={center + 1} y={884} align="center">{histTitles[i]}</Txt>
            <Txt x={center + histMeanMs[i] * 0.152 + 6} y={905} align="center" size={16}>{`${histMeanMs[i].toFixed(1)} ms`}</Txt>
            <ChartCanvas x={left - 40} y={907} w={180} h={151} make={() => histConfig(histBins[i], histFreqs[i], histTopTick[i], histMeanMs[i])} />
          </React.Fragment>
        );
      })}
    </div>
  );
}
